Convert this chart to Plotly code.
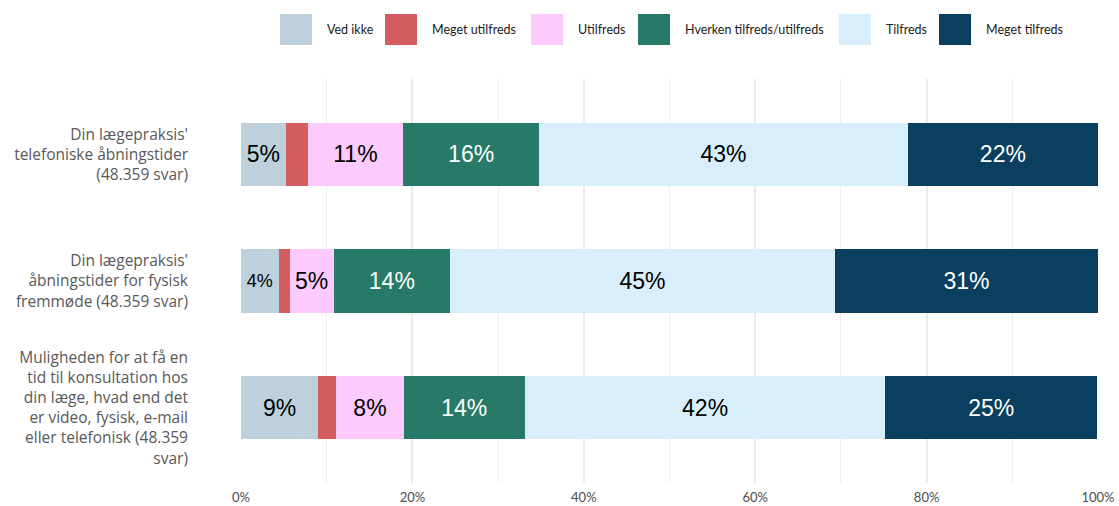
import plotly.graph_objects as go

# ---------------- data ----------------
categories = [
    "Din lægepraksis'<br>telefoniske åbningstider<br>(48.359 svar)",
    "Din lægepraksis'<br>åbningstider for fysisk<br>fremmøde (48.359 svar)",
    "Muligheden for at få en<br>tid til konsultation hos<br>din læge, hvad end det<br>er video, fysisk, e-mail<br>eller telefonisk (48.359<br>svar)",
]
series_names = ["Ved ikke", "Meget utilfreds", "Utilfreds",
                "Hverken tilfreds/utilfreds", "Tilfreds", "Meget tilfreds"]
ved_ikke = [5.2, 4.4, 9.0]
meget_utilfreds = [2.6, 1.3, 2.1]
utilfreds = [11.1, 5.1, 7.9]
hverken = [15.9, 13.6, 14.1]
tilfreds = [43.0, 44.9, 42.1]
meget_tilfreds = [22.2, 30.7, 24.7]
x_tick_values = [0, 20, 40, 60, 80, 100]
x_tick_labels = ["0%", "20%", "40%", "60%", "80%", "100%"]

series_values = [ved_ikke, meget_utilfreds, utilfreds, hverken, tilfreds, meget_tilfreds]
colors = ["#bdd0dc", "#d45d5f", "#fccafc", "#277a68", "#d8eefb", "#0b3f5f"]
text_colors = ["#000000", "#000000", "#000000", "#ffffff", "#000000", "#ffffff"]
show_text = [True, False, True, True, True, True]

# layout geometry (pixels)
W, H = 1119, 506
L, R, T, B = 241, 21, 79, 23
PW, PH = W - L - R, H - T - B


def px_x(px):
    return (px - L) / PW


def px_y(py):
    return (H - B - py) / PH


fig = go.Figure()
for name, vals, col, tcol, st in zip(series_names, series_values, colors, text_colors, show_text):
    txt = [f"{round(v)}%" if st else "" for v in vals]
    # narrow segments get a smaller label
    sizes = [18 if v < 5 else 23 for v in vals]
    fig.add_trace(go.Bar(
        name=name, y=categories, x=vals, orientation="h",
        marker=dict(color=col, line=dict(width=0)),
        width=0.5,
        text=txt, textposition="inside", insidetextanchor="middle", textangle=0,
        insidetextfont=dict(family="Liberation Sans, Arial", size=sizes, color=tcol),
        hoverinfo="x+name", showlegend=False,
    ))

# legend drawn as squares + labels in paper coords
legend_box_x = [280, 385, 531, 638, 839, 939]
legend_text_x = [325, 430, 576, 683, 884, 984]
shapes = []
annotations = []
for name, col, bx, tx in zip(series_names, colors, legend_box_x, legend_text_x):
    shapes.append(dict(type="rect", xref="paper", yref="paper",
                       x0=px_x(bx), x1=px_x(bx + 32), y0=px_y(45), y1=px_y(14),
                       fillcolor=col, line=dict(width=0), layer="above"))
    annotations.append(dict(xref="paper", yref="paper", x=px_x(tx), y=px_y(29.5),
                            xanchor="left", yanchor="middle", text=name, showarrow=False,
                            font=dict(family="Lato", size=12.5, color="#1a1a1a")))

fig.update_layout(
    width=W, height=H,
    margin=dict(l=L, r=R, t=T, b=B, autoexpand=False),
    barmode="stack",
    plot_bgcolor="white", paper_bgcolor="white",
    shapes=shapes, annotations=annotations,
    showlegend=False,
    xaxis=dict(
        range=[0, 100], tickvals=x_tick_values, ticktext=x_tick_labels,
        showgrid=True, gridcolor="#ebebeb", gridwidth=2,
        minor=dict(dtick=10, tick0=0, showgrid=True, gridcolor="#efefef", gridwidth=1),
        zeroline=False, showline=False, ticks="", automargin=False,
        ticklabelstandoff=5,
        tickfont=dict(family="Lato", size=13, color="#4d4d4d"),
    ),
    yaxis=dict(
        range=[2.594, -0.594], showgrid=False, zeroline=False, showline=False,
        ticks="", automargin=False, ticklabelstandoff=52,
        tickfont=dict(family="Open Sans", size=15.5, color="#595959"),
    ),
)

fig.write_html("out.html", config={"displayModeBar": False},
               post_script="document.body.style.margin='0';document.body.style.padding='0';")
